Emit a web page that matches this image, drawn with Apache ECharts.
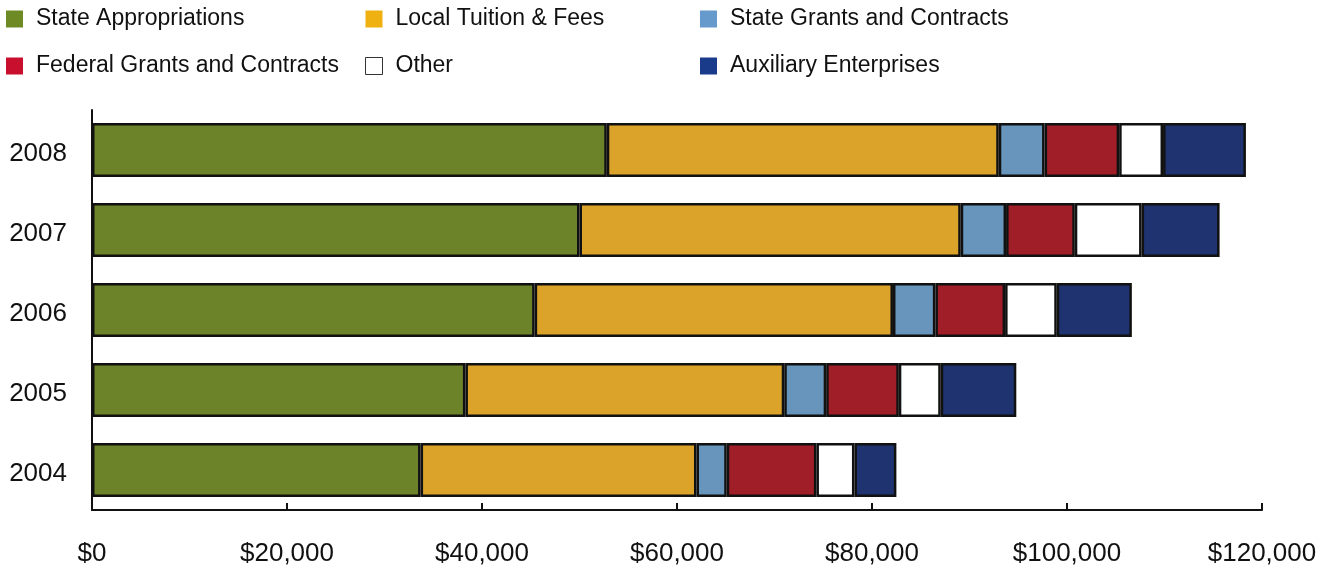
<!DOCTYPE html>
<html>
<head>
<meta charset="utf-8">
<script src="https://cdn.jsdelivr.net/npm/echarts@6/dist/echarts.min.js"></script>
<style>
  html, body { margin: 0; padding: 0; background: #fff; }
  #chart { width: 1326px; height: 571px; }
</style>
</head>
<body>
<div id="chart"></div>
<script>
const years = ['2004', '2005', '2006', '2007', '2008']

const stateAppropriations = [33700, 38300, 45400, 50000, 52800]
const localTuition = [28300, 32700, 36750, 39100, 40200]
const stateGrants = [3100, 4300, 4350, 4650, 4700]
const federalGrants = [9200, 7450, 7150, 7050, 7650]
const other = [3900, 4300, 5300, 6850, 4500]
const auxiliary = [4300, 7750, 7700, 8000, 8500]

const xTicks = [0, 20000, 40000, 60000, 80000, 100000, 120000]

const font = 'Liberation Sans, Arial, Helvetica, sans-serif'

// bar fill, legend swatch
const seriesDefs = [
  { name: 'State Appropriations', data: stateAppropriations, color: '#6c8329', swatch: '#6e8a25' },
  { name: 'Local Tuition & Fees', data: localTuition, color: '#dba32a', swatch: '#eeb111' },
  { name: 'State Grants and Contracts', data: stateGrants, color: '#6795bb', swatch: '#6699cc' },
  { name: 'Federal Grants and Contracts', data: federalGrants, color: '#9f1e27', swatch: '#c8102e' },
  { name: 'Other', data: other, color: '#ffffff', swatch: '#ffffff' },
  { name: 'Auxiliary Enterprises', data: auxiliary, color: '#1f3370', swatch: '#1a3a8a' }
]

const legendItem = name => {
  const s = seriesDefs.find(d => d.name === name)
  return {
    name,
    itemStyle: name === 'Other'
      ? { color: '#fff', borderColor: '#333', borderWidth: 1 }
      : { color: s.swatch, borderWidth: 0 }
  }
}

const legendBase = {
  orient: 'vertical',
  top: 6,
  padding: 0,
  icon: 'rect',
  itemWidth: 17,
  itemHeight: 17,
  itemGap: 21,
  selectedMode: false,
  textStyle: { fontFamily: font, fontSize: 23, lineHeight: 20, color: '#111', padding: [6, 0, 0, 8] }
}

const chart = echarts.init(document.getElementById('chart'))

chart.setOption({
  animation: false,
  legend: [
    { ...legendBase, left: 6, data: ['State Appropriations', 'Federal Grants and Contracts'].map(legendItem) },
    { ...legendBase, left: 365, data: ['Local Tuition & Fees', 'Other'].map(legendItem) },
    { ...legendBase, left: 700, data: ['State Grants and Contracts', 'Auxiliary Enterprises'].map(legendItem) }
  ],
  grid: {
    left: 92,
    right: 64,
    top: 110,
    bottom: 61
  },
  xAxis: {
    type: 'value',
    min: xTicks[0],
    max: xTicks[xTicks.length - 1],
    interval: xTicks[1] - xTicks[0],
    axisLine: { show: true, lineStyle: { color: '#111', width: 2 } },
    axisTick: { show: true, inside: true, length: 7, lineStyle: { color: '#111', width: 2 } },
    splitLine: { show: false },
    axisLabel: {
      margin: 31,
      fontFamily: font,
      fontSize: 26,
      color: '#111',
      formatter: v => '$' + v.toLocaleString('en-US')
    }
  },
  yAxis: {
    type: 'category',
    data: years,
    axisLine: { show: true, lineStyle: { color: '#111', width: 2 } },
    axisTick: { show: false },
    axisLabel: {
      margin: 25,
      color: '#111',
      formatter: v => '{y|' + v + '}',
      rich: {
        y: { fontFamily: font, fontSize: 26, color: '#111', padding: [8, 0, 0, 0] }
      }
    }
  },
  series: seriesDefs.map(s => ({
    name: s.name,
    type: 'bar',
    stack: 'total',
    barWidth: 54,
    data: s.data,
    itemStyle: {
      color: s.color,
      borderColor: '#111',
      borderWidth: 2.5
    }
  }))
})
</script>
</body>
</html>
